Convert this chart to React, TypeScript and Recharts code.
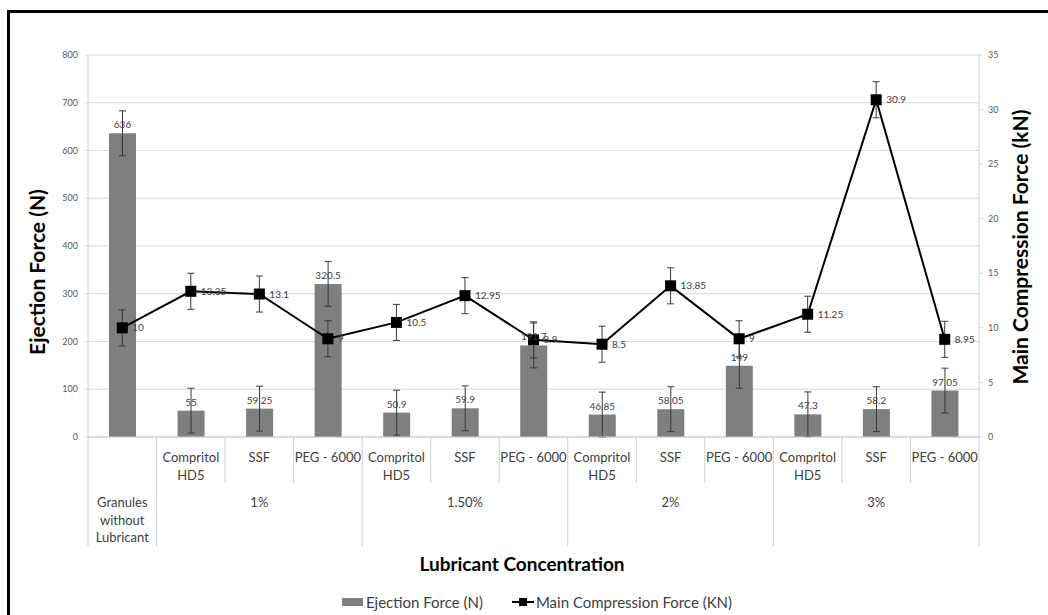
import React from "react";
import {
  Bar,
  CartesianGrid,
  ComposedChart,
  ErrorBar,
  Label,
  LabelList,
  Legend,
  Line,
  XAxis,
  YAxis,
} from "recharts";

// lubricant / concentration combinations, left to right
const categories = [
  "none",
  "1-comp",
  "1-ssf",
  "1-peg",
  "1.5-comp",
  "1.5-ssf",
  "1.5-peg",
  "2-comp",
  "2-ssf",
  "2-peg",
  "3-comp",
  "3-ssf",
  "3-peg",
];
const lubricantLabels = [
  [],
  ["Compritol", "HD5"],
  ["SSF"],
  ["PEG - 6000"],
  ["Compritol", "HD5"],
  ["SSF"],
  ["PEG - 6000"],
  ["Compritol", "HD5"],
  ["SSF"],
  ["PEG - 6000"],
  ["Compritol", "HD5"],
  ["SSF"],
  ["PEG - 6000"],
];
const groupLabels = [["Granules", "without", "Lubricant"], ["1%"], ["1.50%"], ["2%"], ["3%"]];
const groupSizes = [1, 3, 3, 3, 3];

const ejectionForce = [636, 55, 59.25, 320.5, 50.9, 59.9, 191.7, 46.85, 58.05, 149, 47.3, 58.2, 97.05];
const ejectionErr = [47, 47, 47, 47, 47, 47, 47, 47, 47, 47, 47, 47, 47];
const compressionForce = [10, 13.35, 13.1, 9, 10.5, 12.95, 8.9, 8.5, 13.85, 9, 11.25, 30.9, 8.95];
const compressionErr = [1.65, 1.65, 1.65, 1.65, 1.65, 1.65, 1.65, 1.65, 1.65, 1.65, 1.65, 1.65, 1.65];

const leftTicks = [0, 100, 200, 300, 400, 500, 600, 700, 800];
const rightTicks = [0, 5, 10, 15, 20, 25, 30, 35];

const data = categories.map((key, i) => ({
  key,
  ejection: ejectionForce[i],
  ejectionErr: ejectionErr[i],
  compression: compressionForce[i],
  compressionErr: compressionErr[i],
}));

const FONT = "Lato, 'Open Sans', sans-serif";
const W = 1048;
const H = 615;
const PLOT_LEFT = 88;
const PLOT_RIGHT = 979;
const PLOT_TOP = 55;
const PLOT_BOTTOM = 437;
const LEFT_AXIS_W = 60;
const RIGHT_AXIS_W = 40;
const X_AXIS_H = 115;
const BAND = (PLOT_RIGHT - PLOT_LEFT) / categories.length;

const groupStarts = groupSizes.map((_, g) =>
  groupSizes.slice(0, g).reduce((a, b) => a + b, 0)
);

const SEP = "#d0d0d0";
const TXT = "#404040";

// two-row category axis: lubricant on top, concentration below
const CategoryTick = (props: any) => {
  const { x, y, payload } = props;
  const i = payload.index;
  const half = BAND / 2;
  const g = groupStarts.indexOf(i);
  const isLast = i === categories.length - 1;
  return (
    <g>
      <line x1={x - half} x2={x - half} y1={y} y2={y + (g >= 0 ? 109 : 46)} stroke={SEP} />
      {isLast && <line x1={x + half} x2={x + half} y1={y} y2={y + 109} stroke={SEP} />}
      {lubricantLabels[i].map((t, k) => (
        <text
          key={k}
          x={x}
          y={y + 20 + k * 17.5}
          textAnchor="middle"
          dominantBaseline="central"
          fontSize={13}
          fontFamily={FONT}
          fill={TXT}
        >
          {t}
        </text>
      ))}
      {g >= 0 &&
        groupLabels[g].map((t, k) => (
          <text
            key={`g${k}`}
            x={x + (groupSizes[g] - 1) * half}
            y={y + 65 + k * 17.5}
            textAnchor="middle"
            dominantBaseline="central"
            fontSize={13}
            fontFamily={FONT}
            fill={TXT}
          >
            {t}
          </text>
        ))}
    </g>
  );
};

const SquareDot = (props: any) => {
  const { cx, cy, index } = props;
  return <rect key={`sq-${index}`} x={cx - 5.5} y={cy - 5.5} width={11} height={11} fill="#000" />;
};

const renderLegend = (props: any) => {
  const items = props.payload || [];
  return (
    <div
      style={{
        display: "flex",
        justifyContent: "center",
        alignItems: "center",
        fontFamily: FONT,
        fontSize: 15,
        color: TXT,
        paddingLeft: 26,
      }}
    >
      {items.map((entry: any, i: number) => (
        <div key={i} style={{ display: "flex", alignItems: "center", marginLeft: i ? 28 : 0 }}>
          {entry.type === "rect" ? (
            <svg width={23} height={10} style={{ marginRight: 1 }}>
              <rect x={0} y={1} width={21} height={8} fill="#7f7f7f" />
            </svg>
          ) : (
            <svg width={24} height={10} style={{ marginRight: 1 }}>
              <line x1={1} x2={23} y1={5} y2={5} stroke="#000" strokeWidth={2} />
              <rect x={8} y={1} width={8} height={8} fill="#000" />
            </svg>
          )}
          <span>{entry.value}</span>
        </div>
      ))}
    </div>
  );
};

const titleProps = {
  textAnchor: "middle" as const,
  dominantBaseline: "central" as const,
  fontWeight: "bold",
  fontFamily: FONT,
  fill: "#000",
};

export default function App() {
  return (
    <>
      <div
        style={{
          position: "absolute",
          left: 7,
          top: 10,
          width: W - 7,
          height: H - 10,
          boxSizing: "border-box",
          borderLeft: "3px solid #000",
          borderTop: "3px solid #000",
        }}
      />
      <div style={{ position: "absolute", left: 0, top: 0, width: W, height: H }}>
        <ComposedChart
          width={W}
          height={H}
          data={data}
          margin={{
            top: PLOT_TOP,
            left: PLOT_LEFT - LEFT_AXIS_W,
            right: W - PLOT_RIGHT - RIGHT_AXIS_W,
            bottom: H - PLOT_BOTTOM - X_AXIS_H,
          }}
        >
          <CartesianGrid yAxisId="left" vertical={false} stroke="#d9d9d9" />
          <XAxis
            dataKey="key"
            height={X_AXIS_H}
            interval={0}
            tickLine={false}
            tickSize={0}
            tickMargin={0}
            axisLine={{ stroke: SEP }}
            tick={<CategoryTick />}
          >
            <Label
              content={() => (
                <text x={522} y={563} fontSize={19} {...titleProps}>
                  Lubricant Concentration
                </text>
              )}
            />
          </XAxis>
          <YAxis
            yAxisId="left"
            width={LEFT_AXIS_W}
            domain={[0, 800]}
            ticks={leftTicks}
            interval={0}
            tickSize={3}
            tickMargin={7}
            tickLine={{ stroke: "#d9d9d9" }}
            axisLine={{ stroke: SEP }}
            tick={{ fontSize: 9, fill: "#595959", fontFamily: FONT }}
          >
            <Label
              content={() => (
                <text transform="translate(36,272) rotate(-90)" fontSize={21} {...titleProps}>
                  Ejection Force (N)
                </text>
              )}
            />
          </YAxis>
          <YAxis
            yAxisId="right"
            orientation="right"
            width={RIGHT_AXIS_W}
            domain={[0, 35]}
            ticks={rightTicks}
            interval={0}
            tickSize={4}
            tickMargin={5}
            tickLine={{ stroke: "#d9d9d9" }}
            axisLine={{ stroke: SEP }}
            tick={{ fontSize: 9, fill: "#595959", fontFamily: FONT }}
          >
            <Label
              content={() => (
                <text transform="translate(1019,247) rotate(-90)" fontSize={21} {...titleProps}>
                  Main Compression Force (kN)
                </text>
              )}
            />
          </YAxis>
          <Bar
            yAxisId="left"
            dataKey="ejection"
            name="Ejection Force (N)"
            legendType="rect"
            fill="#7f7f7f"
            barSize={27}
            isAnimationActive={false}
          >
            <ErrorBar dataKey="ejectionErr" width={3.5} stroke="#3a3a3a" strokeWidth={1} direction="y" />
            <LabelList
              dataKey="ejection"
              position="top"
              offset={5}
              fontSize={10}
              fontFamily={FONT}
              fill={TXT}
            />
          </Bar>
          <Line
            yAxisId="right"
            dataKey="compression"
            name="Main Compression Force (KN)"
            legendType="line"
            stroke="#000"
            strokeWidth={2}
            dot={SquareDot}
            activeDot={false}
            isAnimationActive={false}
          >
            <ErrorBar dataKey="compressionErr" width={3.5} stroke="#3a3a3a" strokeWidth={1} direction="y" />
            <LabelList
              dataKey="compression"
              position="right"
              offset={10}
              fontSize={10}
              fontFamily={FONT}
              fill={TXT}
            />
          </Line>
          <Legend
            layout="horizontal"
            verticalAlign="middle"
            align="center"
            wrapperStyle={{ top: 593, left: 0, width: W }}
            content={renderLegend}
          />
        </ComposedChart>
      </div>
    </>
  );
}
